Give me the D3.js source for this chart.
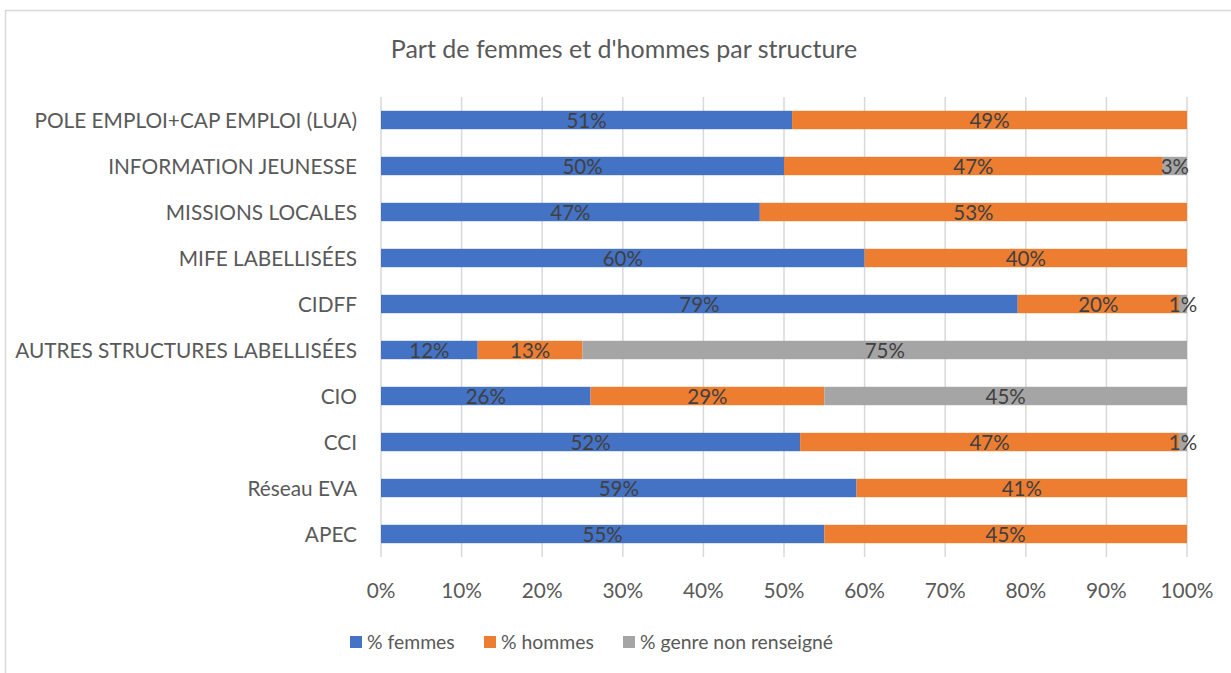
<!DOCTYPE html>
<html>
<head>
<meta charset="utf-8">
<script src="https://cdn.jsdelivr.net/npm/d3@7"></script>
<style>
body { margin:0; background:#fff; }
text { font-family: Lato, "Open Sans", sans-serif; }
</style>
</head>
<body>
<script>
// data
var structures = ["POLE EMPLOI+CAP EMPLOI (LUA)", "INFORMATION JEUNESSE", "MISSIONS LOCALES",
  "MIFE LABELLISÉES", "CIDFF", "AUTRES STRUCTURES LABELLISÉES", "CIO", "CCI", "Réseau EVA", "APEC"]
var femmes = [51, 50, 47, 60, 79, 12, 26, 52, 59, 55]
var hommes = [49, 47, 53, 40, 20, 13, 29, 47, 41, 45]
var nonRenseigne = [0, 3, 0, 0, 1, 75, 45, 1, 0, 0]
var seriesNames = ["% femmes", "% hommes", "% genre non renseigné"]
var seriesColors = ["#4472c4", "#ed7d31", "#a5a5a5"]
var xTicks = [0, 10, 20, 30, 40, 50, 60, 70, 80, 90, 100]

var W = 1231, H = 673
var svg = d3.select("body").append("svg").attr("width", W).attr("height", H)

// chart frame (only top and left edges are visible)
svg.append("path")
  .attr("d", "M5.5,673 L5.5,10.5 L1231,10.5")
  .attr("fill", "none").attr("stroke", "#d9d9d9").attr("stroke-width", 1.5)

svg.append("text")
  .attr("x", 624).attr("y", 58)
  .attr("text-anchor", "middle")
  .attr("font-size", 25).attr("fill", "#595959")
  .text("Part de femmes et d'hommes par structure")

var x = d3.scaleLinear().domain([0, 100]).range([381, 1187])
var y = d3.scaleBand().domain(structures).range([97, 557]).paddingInner(0.6).paddingOuter(0.3)

// gridlines
svg.append("g").selectAll("line")
  .data(xTicks)
  .enter()
  .append("line")
  .attr("x1", function(d){ return x(d) })
  .attr("x2", function(d){ return x(d) })
  .attr("y1", 97).attr("y2", 557)
  .attr("stroke", "#d9d9d9").attr("stroke-width", 1.5)

// stack
var rows = structures.map(function(s, i){
  return {name: s, f: femmes[i], h: hommes[i], n: nonRenseigne[i]}
})
var stack = d3.stack().keys(["f", "h", "n"])(rows)

var layers = svg.append("g").selectAll("g")
  .data(stack)
  .enter()
  .append("g")
  .attr("fill", function(d, i){ return seriesColors[i] })

layers.selectAll("rect")
  .data(function(d){ return d })
  .enter()
  .append("rect")
  .attr("x", function(d){ return x(d[0]) })
  .attr("width", function(d){ return x(d[1]) - x(d[0]) })
  .attr("y", function(d){ return y(d.data.name) })
  .attr("height", y.bandwidth())

// data labels
layers.selectAll("text")
  .data(function(d){ return d.filter(function(p){ return p[1] - p[0] > 0 }) })
  .enter()
  .append("text")
  .attr("x", function(d){ return (x(d[0]) + x(d[1])) / 2 })
  .attr("y", function(d){ return y(d.data.name) + y.bandwidth() / 2 + 7.5 })
  .attr("text-anchor", "middle")
  .attr("font-size", 20.5).attr("fill", "#404040")
  .text(function(d){ return (d[1] - d[0]) + "%" })

// category axis
svg.append("g").selectAll("text")
  .data(structures)
  .enter()
  .append("text")
  .attr("x", 357)
  .attr("y", function(d){ return y(d) + y.bandwidth() / 2 + 7.5 })
  .attr("text-anchor", "end")
  .attr("font-size", 20.8).attr("fill", "#595959")
  .text(function(d){ return d })

// value axis
svg.append("g").selectAll("text")
  .data(xTicks)
  .enter()
  .append("text")
  .attr("x", function(d){ return x(d) })
  .attr("y", 598)
  .attr("text-anchor", "middle")
  .attr("font-size", 20.8).attr("fill", "#595959")
  .text(function(d){ return d + "%" })

// legend
var legendX = [350, 484, 623]
var leg = svg.append("g").selectAll("g")
  .data(seriesNames)
  .enter()
  .append("g")
  .attr("transform", function(d, i){ return "translate(" + legendX[i] + ",642)" })
leg.append("rect")
  .attr("x", 0).attr("y", -6).attr("width", 12).attr("height", 12)
  .attr("fill", function(d, i){ return seriesColors[i] })
leg.append("text")
  .attr("x", 17).attr("y", 7)
  .attr("font-size", 19.4).attr("fill", "#595959")
  .text(function(d){ return d })
</script>
</body>
</html>
